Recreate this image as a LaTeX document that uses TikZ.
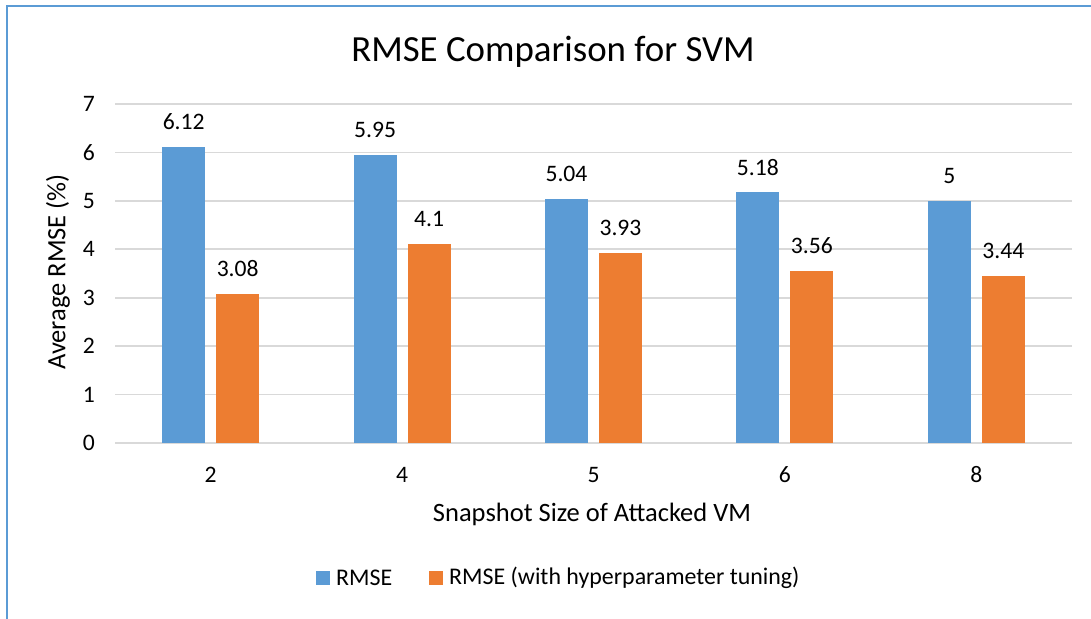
\documentclass[tikz,border=0pt]{standalone}
\usepackage{fontspec}
\setmainfont{Carlito}
\definecolor{serA}{HTML}{5B9BD5}
\definecolor{serB}{HTML}{ED7D31}
\definecolor{gridc}{HTML}{D9D9D9}
\definecolor{framec}{HTML}{5B9BD5}
\definecolor{textc}{HTML}{000000}
\tikzset{
  gridline/.style={draw=gridc, line width=1.6bp},
  barA/.style={fill=serA, draw=none},
  barB/.style={fill=serB, draw=none},
  ticklbl/.style={font=\fontsize{23.7}{27}\selectfont, text=textc, inner sep=0pt},
  vallbl/.style={font=\fontsize{23.7}{27}\selectfont, text=textc, inner sep=0pt},
  axtitle/.style={font=\fontsize{26.6}{30}\selectfont, text=textc, inner sep=0pt},
  legtext/.style={font=\fontsize{24}{27}\selectfont, text=textc, inner sep=0pt},
  charttitle/.style={font=\fontsize{37}{42}\selectfont, text=textc, inner sep=0pt},
  legkey/.style={minimum size=14bp, inner sep=0pt, draw=none},
}
\begin{document}
\begin{tikzpicture}[x=1bp,y=-1bp]
\useasboundingbox (0,0) rectangle (1091,619);
% chart frame (right and bottom edges fall outside the page)
\draw[framec, line width=2.6bp] (7,6) rectangle (1110,640);
% title
\node[charttitle] (title) at (553,52) {RMSE Comparison for SVM};
% horizontal gridlines and value axis labels
\foreach \k in {0,...,7} {
  \draw[gridline] (115,{443-48.43*\k}) -- (1072,{443-48.43*\k});
  \node[ticklbl, anchor=east] (ytick\k) at (95,{443-48.43*\k}) {\k};
}
% value axis title
\node[axtitle, rotate=90] (ytitle) at (58,272) {Average RMSE (\%)};
% bars, value labels and category labels
\foreach \i/\cat/\va/\vb in {0/2/6.12/3.08, 1/4/5.95/4.1, 2/5/5.04/3.93, 3/6/5.18/3.56, 4/8/5/3.44} {
  \pgfmathsetmacro{\cx}{115+191.4*(\i+0.5)}
  \pgfmathsetmacro{\ta}{443-48.43*\va}
  \pgfmathsetmacro{\tb}{443-48.43*\vb}
  \fill[barA] ({\cx-48.5},443) rectangle ({\cx-5.5},\ta);
  \fill[barB] ({\cx+5.5},443) rectangle ({\cx+48.5},\tb);
  \node[vallbl] (va\i) at ({\cx-27},{\ta-25}) {\va};
  \node[vallbl] (vb\i) at ({\cx+27},{\tb-25}) {\vb};
  \node[ticklbl] (xcat\i) at (\cx,475) {\cat};
}
% category axis title
\node[axtitle] (xtitle) at (592,514) {Snapshot Size of Attacked VM};
% legend
\node[legkey, fill=serA] (keyA) at (323,578) {};
\node[legtext, anchor=west] (legA) at (336,578) {RMSE};
\node[legkey, fill=serB] (keyB) at (436,578) {};
\node[legtext, anchor=west] (legB) at (449,578) {RMSE (with hyperparameter tuning)};
\end{tikzpicture}
\end{document}
